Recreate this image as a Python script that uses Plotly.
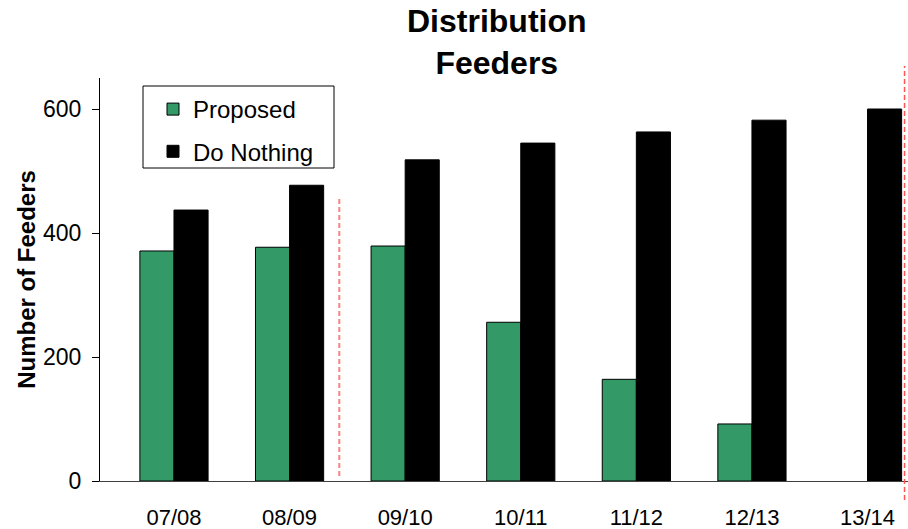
import plotly.graph_objects as go

# Fiscal years and feeder counts per scenario
years = ["07/08", "08/09", "09/10", "10/11", "11/12", "12/13", "13/14"]
proposed = [371, 377, 379, 256, 164, 92, 0]
do_nothing = [437, 477, 518, 545, 563, 582, 600]
y_ticks = [0, 200, 400, 600]

FONT = "Arial, 'Liberation Sans', sans-serif"
idx = list(range(len(years)))

# Plot area in pixels: x 100..908, y 78..481
PL, PR, PT, PB = 100, 908, 78, 481


def px(xp):
    return (xp - PL) / (PR - PL)


def py(yp):
    return (PB - yp) / (PB - PT)


fig = go.Figure()
fig.add_trace(go.Bar(
    x=idx, y=proposed, name="Proposed", legendgroup="p",
    marker=dict(color="#339966",
                line=dict(color="#000000", width=[1 if v > 0 else 0 for v in proposed])),
))
fig.add_trace(go.Bar(
    x=idx, y=do_nothing, name="Do Nothing", legendgroup="d",
    marker=dict(color="#000000", line=dict(color="#000000", width=1)),
))

# Dashed red markers: split between 08/09 and 09/10, and at the end of the range
fig.add_shape(type="line", xref="x", yref="y", x0=1.43, x1=1.43, y0=8, y1=455,
              line=dict(color="#FF8080", width=2, dash="5px,3px"))
fig.add_shape(type="line", xref="x", yref="paper", x0=6.32, x1=6.32, y0=py(500), y1=py(66),
              line=dict(color="#FF5555", width=1.5, dash="5px,3px"))

# Legend frame
fig.add_shape(type="rect", xref="paper", yref="paper",
              x0=px(143), x1=px(334), y0=py(168), y1=py(86),
              line=dict(color="#000000", width=1), fillcolor="white", layer="below")

# Two-line chart title
fig.add_annotation(text="<b>Distribution<br>Feeders</b>", xref="paper", yref="paper",
                   x=px(497), y=py(42), xanchor="center", yanchor="middle",
                   showarrow=False, align="center",
                   font=dict(family=FONT, size=32, color="#000000"))

fig.update_layout(
    width=908, height=529,
    margin=dict(l=PL, r=908 - PR, t=PT, b=529 - PB, autoexpand=False),
    paper_bgcolor="white", plot_bgcolor="white",
    font=dict(family=FONT, color="#000000", size=22),
    barmode="group", bargap=0.41, bargroupgap=0,
    showlegend=True,
    legend=dict(x=px(153), y=py(87), xanchor="left", yanchor="top",
                bgcolor="rgba(0,0,0,0)", borderwidth=0,
                font=dict(family=FONT, size=24, color="#000000"),
                traceorder="grouped", tracegroupgap=8),
    xaxis=dict(
        range=[-0.64, 6.35], tickmode="array", tickvals=idx, ticktext=years,
        showline=True, linecolor="#404040", linewidth=1, ticks="",
        showgrid=False, zeroline=False, ticklabelstandoff=17, automargin=False,
        tickfont=dict(family=FONT, size=22, color="#000000"),
    ),
    yaxis=dict(
        range=[0, 650], tickmode="array", tickvals=y_ticks,
        showline=True, linecolor="#000000", linewidth=1,
        ticks="outside", ticklen=7, tickcolor="#000000",
        showgrid=False, zeroline=False, ticklabelstandoff=6, automargin=False,
        tickfont=dict(family=FONT, size=23, color="#000000"),
        title=dict(text="<b>Number of Feeders</b>", standoff=0,
                   font=dict(family=FONT, size=24, color="#000000")),
    ),
)

fig.write_html("out.html")
